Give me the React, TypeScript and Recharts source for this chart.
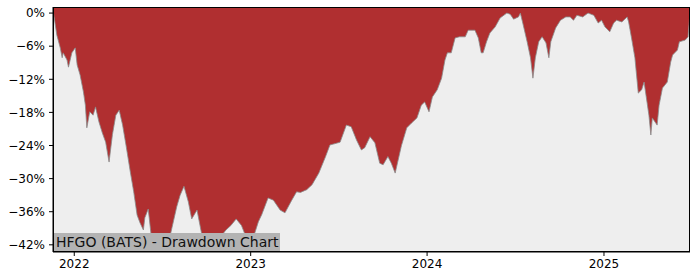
import { Area, AreaChart, CartesianGrid, XAxis, YAxis } from 'recharts'

// drawdown in percent at roughly weekly steps
const dates = [
  '2021-11-19', '2021-11-26', '2021-12-03', '2021-12-07', '2021-12-09', '2021-12-17', '2021-12-20', '2021-12-27',
  '2022-01-03', '2022-01-07', '2022-01-13', '2022-01-20', '2022-01-24', '2022-01-27', '2022-02-02', '2022-02-09',
  '2022-02-14', '2022-02-21', '2022-02-28', '2022-03-07', '2022-03-14', '2022-03-21', '2022-03-28', '2022-04-04',
  '2022-04-11', '2022-04-18', '2022-04-27', '2022-05-04', '2022-05-11', '2022-05-17', '2022-05-24', '2022-05-27',
  '2022-06-03', '2022-06-09', '2022-06-16', '2022-06-27', '2022-07-07', '2022-07-18', '2022-08-01', '2022-08-08',
  '2022-08-16', '2022-08-25', '2022-09-01', '2022-09-12', '2022-09-22', '2022-10-03', '2022-10-14', '2022-10-31',
  '2022-11-11', '2022-11-21', '2022-12-02', '2022-12-13', '2022-12-22', '2022-12-30', '2023-01-09', '2023-01-17',
  '2023-01-24', '2023-02-06', '2023-02-17', '2023-03-03', '2023-03-13', '2023-03-27', '2023-04-06', '2023-04-14',
  '2023-04-27', '2023-05-08', '2023-05-22', '2023-06-05', '2023-06-14', '2023-06-23', '2023-07-05', '2023-07-18',
  '2023-07-28', '2023-08-08', '2023-08-18', '2023-08-25', '2023-09-05', '2023-09-15', '2023-09-25', '2023-10-02',
  '2023-10-12', '2023-10-19', '2023-10-27', '2023-11-09', '2023-11-20', '2023-11-30', '2023-12-11', '2023-12-20',
  '2023-12-27', '2024-01-05', '2024-01-12', '2024-01-22', '2024-01-31', '2024-02-07', '2024-02-12', '2024-02-20',
  '2024-02-28', '2024-03-08', '2024-03-20', '2024-03-26', '2024-04-09', '2024-04-16', '2024-04-22', '2024-04-26',
  '2024-05-03', '2024-05-10', '2024-05-21', '2024-05-31', '2024-06-14', '2024-06-21', '2024-06-28', '2024-07-08',
  '2024-07-12', '2024-07-17', '2024-07-26', '2024-08-02', '2024-08-07', '2024-08-12', '2024-08-19', '2024-08-26',
  '2024-09-03', '2024-09-09', '2024-09-13', '2024-09-23', '2024-10-03', '2024-10-14', '2024-10-23', '2024-10-30',
  '2024-11-06', '2024-11-18', '2024-11-29', '2024-12-11', '2024-12-20', '2024-12-27', '2025-01-03', '2025-01-13',
  '2025-01-21', '2025-01-27', '2025-02-07', '2025-02-18', '2025-02-21', '2025-02-27', '2025-03-06', '2025-03-13',
  '2025-03-20', '2025-03-25', '2025-03-31', '2025-04-04', '2025-04-08', '2025-04-11', '2025-04-21', '2025-04-25',
  '2025-05-02', '2025-05-12', '2025-05-19', '2025-05-23', '2025-06-02', '2025-06-06', '2025-06-18', '2025-06-24',
  '2025-06-27',
]

const drawdown = [
  0, -4, -6.3, -8.1, -7.2, -8.5, -9.8, -7.2,
  -6.3, -9.4, -11.2, -14.3, -16.7, -20.8, -17.9, -18.5,
  -17, -19.7, -21.7, -23.4, -27, -22, -18.5, -17.6,
  -20.3, -23.9, -28.8, -32.4, -36.6, -38, -39.3, -37.1,
  -35.5, -40.2, -42, -41.5, -42.5, -40.5, -35.1, -33,
  -31.4, -34.2, -37.3, -35.7, -40.2, -41.6, -42.9, -40.5,
  -39.3, -38.5, -37.3, -38.5, -40.5, -42.5, -40, -37.8,
  -36.5, -33.5, -33.9, -35.7, -36.2, -33.9, -32.4, -32.5,
  -32, -31.1, -29, -26, -23.9, -23.7, -23.4, -20.3,
  -20.6, -23, -24.8, -24.4, -22.4, -23.5, -27.2, -27.5,
  -26, -27.2, -29, -24, -20.8, -19.9, -19, -16.7,
  -16.1, -17.9, -15.2, -13.9, -11.8, -8.5, -7.2, -7.2,
  -4.5, -4.3, -4.3, -3.1, -3.1, -4.5, -7.2, -7.2,
  -5.2, -3.6, -2.5, -0.9, 0, -0.2, -1.1, -0.7,
  0, -1.8, -5.2, -8.1, -11.8, -8.1, -5.2, -4.3,
  -5.4, -8.1, -5.2, -2.7, -1.3, -0.7, -0.7, -1.3,
  -0.4, -0.7, 0, -0.4, -1.8, -1.3, -2.5, -3.4,
  -1.8, -1.3, -1.6, -0.7, -1.6, -4.5, -8.1, -14.5,
  -13.9, -12.5, -16.1, -18.5, -22.1, -19, -20.3, -16.7,
  -13.6, -12.5, -8.9, -7.6, -6.7, -5.2, -4.9, -4.3,
  -0.9,
]

const yTicks = [0, -6, -12, -18, -24, -30, -36, -42]
const yearTicks = ['2022-01-01', '2023-01-01', '2024-01-01', '2025-01-01']

const data = dates.map((d, i) => ({ t: Date.parse(d), dd: drawdown[i] }))
const xTicks = yearTicks.map(d => Date.parse(d))

const font = 'DejaVu Sans, sans-serif'
const tickStyle = { fontSize: 12, fill: '#000', fontFamily: font }

export default function App() {
  return (
    <div style={{ position: 'absolute', left: 0, top: 0, width: 700, height: 280, background: '#fff' }}>
      <AreaChart width={700} height={280} data={data} margin={{ top: 7, right: 10, bottom: 0, left: 0 }}>
        <CartesianGrid fill="#eeeeee" horizontal={false} vertical={false} stroke="none" />
        <XAxis
          dataKey="t"
          type="number"
          scale="time"
          domain={[Date.parse('2021-11-18'), Date.parse('2025-06-28')]}
          ticks={xTicks}
          tickFormatter={(v: number) => String(new Date(v).getUTCFullYear())}
          tick={tickStyle}
          tickSize={4}
          tickMargin={3}
          height={28}
          axisLine={{ stroke: '#000' }}
          tickLine={{ stroke: '#000' }}
        />
        <YAxis
          type="number"
          domain={[-43.3, 1.1]}
          ticks={yTicks}
          tickFormatter={(v: number) => (v === 0 ? '0%' : `\u2212${Math.abs(v)}%`)}
          tick={tickStyle}
          tickSize={4}
          tickMargin={4}
          width={53}
          axisLine={{ stroke: '#000' }}
          tickLine={{ stroke: '#000' }}
          allowDataOverflow
        />
        <Area
          type="linear"
          dataKey="dd"
          baseValue="dataMax"
          fill="#b02f30"
          fillOpacity={1}
          stroke="#8a8a8a"
          strokeWidth={0.8}
          dot={false}
          activeDot={false}
          isAnimationActive={false}
        />
      </AreaChart>
      {/* plot frame */}
      <div
        style={{
          position: 'absolute',
          left: 53,
          top: 7,
          width: 637,
          height: 245,
          boxSizing: 'border-box',
          border: '1px solid #000',
          pointerEvents: 'none',
        }}
      />
      <div
        style={{
          position: 'absolute',
          left: 54,
          top: 233,
          width: 224,
          height: 18,
          background: '#b3b3b3',
          fontFamily: font,
          fontSize: 14,
          lineHeight: '18px',
          color: '#111',
          paddingLeft: 2,
          whiteSpace: 'nowrap',
        }}
      >
        HFGO (BATS) - Drawdown Chart
      </div>
    </div>
  )
}
